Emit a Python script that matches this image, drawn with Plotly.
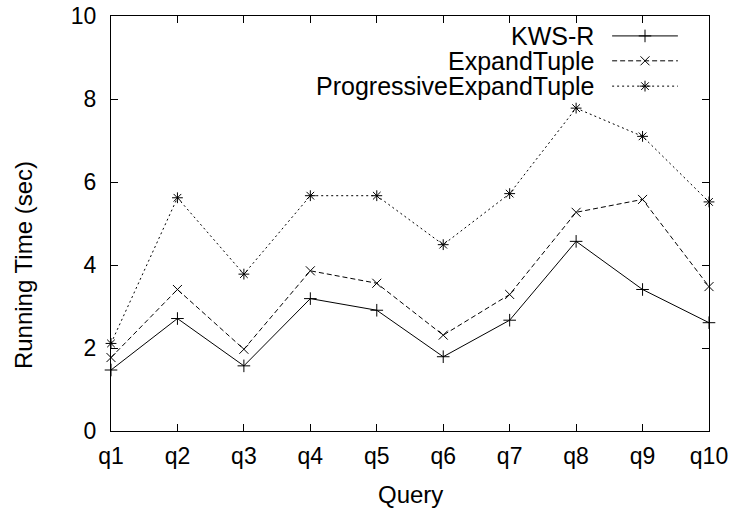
import plotly.graph_objects as go

queries = ["q1", "q2", "q3", "q4", "q5", "q6", "q7", "q8", "q9", "q10"]
kws_r = [1.47, 2.71, 1.57, 3.19, 2.91, 1.79, 2.67, 4.57, 3.41, 2.61]
expand_tuple = [1.77, 3.41, 1.97, 3.86, 3.56, 2.31, 3.29, 5.27, 5.58, 3.48]
progressive = [2.11, 5.62, 3.78, 5.67, 5.67, 4.49, 5.72, 7.78, 7.10, 5.52]
y_ticks = [0, 2, 4, 6, 8, 10]

series = [
    ("KWS-R", kws_r, "solid", "cross-thin"),
    ("ExpandTuple", expand_tuple, "5px,3px", "x-thin"),
    ("ProgressiveExpandTuple", progressive, "2px,3px", "asterisk"),
]

FONT = "Liberation Sans, Arial, sans-serif"
FS = 23
fig = go.Figure()
for name, vals, dash, sym in series:
    fig.add_trace(go.Scatter(
        x=queries, y=vals, mode="lines+markers", name=name,
        line=dict(color="black", width=1, dash=dash),
        marker=dict(symbol=sym, size=9, color="black", line=dict(color="black", width=1)),
        cliponaxis=False, showlegend=False,
    ))

# gnuplot-style legend: right-aligned text followed by sample line with marker
leg_rows = [0.952, 0.892, 0.831]
for (name, vals, dash, sym), ly in zip(series, leg_rows):
    fig.add_annotation(x=0.81, y=ly, xref="x2 domain", yref="y2 domain", xanchor="right",
                       yanchor="middle", text=name, showarrow=False, borderpad=0,
                       font=dict(family=FONT, size=25, color="black"))
    fig.add_trace(go.Scatter(
        x=[0.838, 0.948], y=[ly, ly], xaxis="x2", yaxis="y2", mode="lines",
        line=dict(color="black", width=1, dash=dash), showlegend=False, hoverinfo="skip"))
    fig.add_trace(go.Scatter(
        x=[0.893], y=[ly], xaxis="x2", yaxis="y2", mode="markers",
        marker=dict(symbol=sym, size=9, color="black", line=dict(color="black", width=1)),
        showlegend=False, hoverinfo="skip", cliponaxis=False))

# axis titles
fig.add_annotation(x=0.5, y=-0.154, xref="paper", yref="paper", text="Query", showarrow=False,
                   xanchor="center", yanchor="middle", font=dict(family=FONT, size=24, color="black"))
fig.add_annotation(x=-0.147, y=0.40, xref="paper", yref="paper", text="Running Time (sec)",
                   showarrow=False, textangle=-90, xanchor="center", yanchor="middle",
                   font=dict(family=FONT, size=24, color="black"))

axis_common = dict(showline=True, linecolor="black", linewidth=1.2, mirror="ticks",
                   ticks="inside", ticklen=7, tickcolor="black", tickwidth=1,
                   showgrid=False, zeroline=False, automargin=False,
                   tickfont=dict(family=FONT, size=FS, color="black"))

fig.update_layout(
    width=733, height=510,
    margin=dict(l=111, r=24, t=16, b=79),
    paper_bgcolor="white", plot_bgcolor="white",
    font=dict(family=FONT, size=FS, color="black"),
    xaxis=dict(type="category", range=[0, 9], ticklabelstandoff=4, **axis_common),
    yaxis=dict(range=[0, 10], tickvals=y_ticks, ticklabelstandoff=9, **axis_common),
    xaxis2=dict(overlaying="x", range=[0, 1], visible=False, anchor="y2"),
    yaxis2=dict(overlaying="y", range=[0, 1], visible=False, anchor="x2"),
)

fig.write_html("out.html", config={"displayModeBar": False},
               post_script="document.body.style.margin='0';")
